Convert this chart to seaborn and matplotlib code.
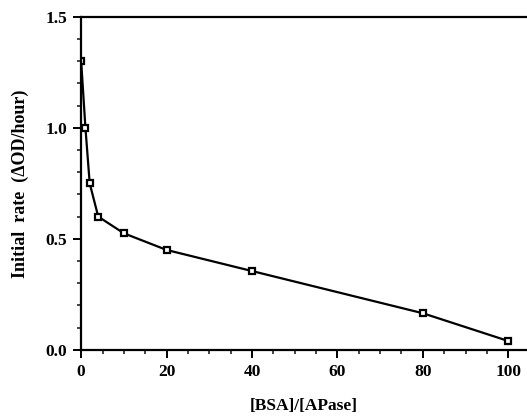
import numpy as np
import pandas as pd
import seaborn as sns
from matplotlib import pyplot as plt
from matplotlib.ticker import MultipleLocator

# data
ratio = [0, 1, 2, 4, 10, 20, 40, 80, 100]
rate = [1.30, 1.00, 0.75, 0.60, 0.525, 0.45, 0.355, 0.165, 0.04]

df = pd.DataFrame({"ratio": ratio, "rate": rate})

sns.set_style("ticks")
plt.rcParams["font.family"] = ["Liberation Serif", "DejaVu Serif"]
plt.rcParams["font.weight"] = "bold"
plt.rcParams["text.color"] = "black"
plt.rcParams["axes.labelcolor"] = "black"

fig = plt.figure(figsize=(5.27, 4.2), dpi=100)
ax = fig.add_axes([0.154, 0.167, 0.846, 0.793])

sns.lineplot(data=df, x="ratio", y="rate", ax=ax,
             color="black", linewidth=1.6,
             marker="s", markersize=5,
             markerfacecolor="white", markeredgecolor="black",
             markeredgewidth=1.6)

ax.set_xlim(0, 104.4)
ax.set_ylim(0, 1.5)
ax.xaxis.set_major_locator(MultipleLocator(20))
ax.xaxis.set_minor_locator(MultipleLocator(5))
ax.yaxis.set_major_locator(MultipleLocator(0.5))
ax.yaxis.set_minor_locator(MultipleLocator(0.1))
ax.yaxis.set_major_formatter(plt.FuncFormatter(lambda v, p: f"{v:.1f}"))

for side in ["left", "bottom", "top"]:
    ax.spines[side].set_linewidth(1.6)
    ax.spines[side].set_color("black")
ax.spines["right"].set_visible(False)

ax.tick_params(which="major", direction="out", length=6, width=1.4,
               labelsize=12.5, colors="black", pad=4)
ax.tick_params(which="minor", direction="out", length=3, width=1.2)
for lab in ax.get_xticklabels() + ax.get_yticklabels():
    lab.set_fontweight("bold")

ax.set_xlabel("[BSA]/[APase]", fontsize=12.5, fontweight="bold", labelpad=13)
ax.set_ylabel("Initial  rate  (ΔOD/hour)", fontsize=13, fontweight="bold",
              labelpad=12)

fig.savefig("out.png", dpi=100)
